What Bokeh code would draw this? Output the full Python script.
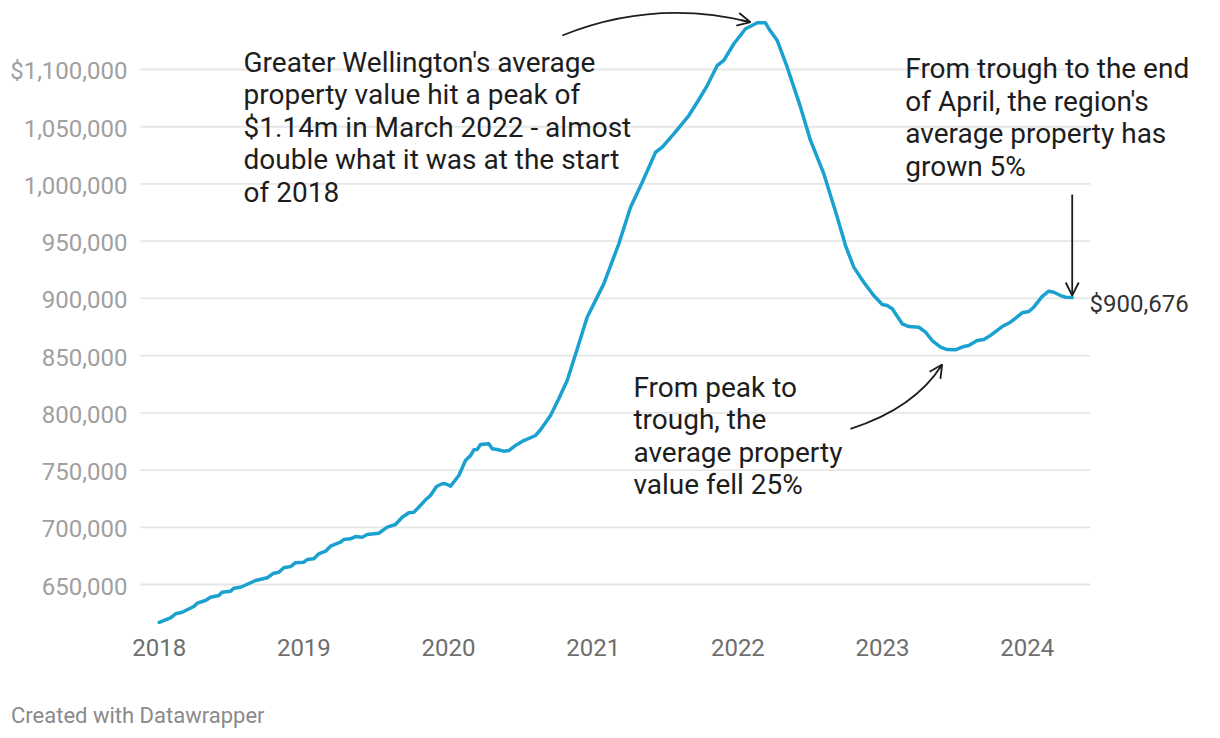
from bokeh.plotting import figure
from bokeh.models import Range1d, Label, Arrow, OpenHead, ColumnDataSource
from bokeh.embed import file_html
from bokeh.resources import INLINE
from bokeh.core.properties import value

# ---- data (decimal year, average property value) ----
years = [2018.000, 2018.078, 2018.113, 2018.159, 2018.239, 2018.263, 2018.320, 2018.355,
         2018.412, 2018.435, 2018.493, 2018.516, 2018.562, 2018.666, 2018.747, 2018.792,
         2018.827, 2018.861, 2018.908, 2018.942, 2019.000, 2019.023, 2019.069, 2019.103,
         2019.150, 2019.184, 2019.253, 2019.276, 2019.322, 2019.357, 2019.403, 2019.438,
         2019.518, 2019.576, 2019.633, 2019.680, 2019.725, 2019.760, 2019.794, 2019.841,
         2019.875, 2019.917, 2019.956, 2019.979, 2020.014, 2020.071, 2020.117, 2020.152,
         2020.175, 2020.198, 2020.221, 2020.278, 2020.302, 2020.336, 2020.382, 2020.417,
         2020.463, 2020.520, 2020.601, 2020.636, 2020.705, 2020.762, 2020.820, 2020.890,
         2020.958, 2021.073, 2021.177, 2021.258, 2021.339, 2021.431, 2021.477, 2021.557,
         2021.661, 2021.719, 2021.788, 2021.857, 2021.903, 2021.972, 2022.053, 2022.099,
         2022.134, 2022.191, 2022.214, 2022.272, 2022.341, 2022.433, 2022.502, 2022.594,
         2022.687, 2022.744, 2022.801, 2022.870, 2022.939, 2022.998, 2023.032, 2023.067,
         2023.136, 2023.182, 2023.251, 2023.297, 2023.343, 2023.401, 2023.447, 2023.504,
         2023.562, 2023.596, 2023.654, 2023.700, 2023.746, 2023.827, 2023.884, 2023.965,
         2024.011, 2024.045, 2024.104, 2024.149, 2024.184, 2024.230, 2024.265, 2024.311]
values = [617000, 620900, 624400, 625800, 630800, 633700, 636000, 638900,
          640400, 643300, 644100, 646800, 647600, 653500, 655900, 659900,
          660700, 664600, 665700, 669000, 669500, 671800, 672500, 676800,
          679100, 683500, 687000, 689300, 689900, 691900, 691300, 693700,
          694800, 700100, 702400, 708800, 712700, 713200, 717500, 724000,
          727800, 735600, 738000, 738000, 735900, 745200, 758400, 762700,
          767700, 768000, 772300, 772900, 768600, 768000, 766500, 767100,
          771500, 775800, 780200, 785200, 797700, 812300, 828300, 856000,
          883600, 912700, 947700, 979700, 1001500, 1027700, 1032100, 1043800,
          1059800, 1071400, 1086000, 1103500, 1107900, 1122500, 1135600, 1138500,
          1140800, 1140800, 1135600, 1125300, 1102000, 1067100, 1038000, 1008900,
          970900, 946200, 927300, 914100, 902500, 894700, 893800, 890900,
          877800, 875400, 874800, 870500, 863200, 857400, 855300, 855100,
          858000, 858800, 863200, 864100, 867600, 875400, 879200, 887400,
          888500, 892300, 901700, 906300, 905400, 902500, 901000, 900676]

x_ticks = [2018, 2019, 2020, 2021, 2022, 2023, 2024]
x_tick_labels = ["2018", "2019", "2020", "2021", "2022", "2023", "2024"]
y_ticks = [650000, 700000, 750000, 800000, 850000, 900000, 950000, 1000000, 1050000, 1100000]
y_tick_labels = ["650,000", "700,000", "750,000", "800,000", "850,000", "900,000",
                 "950,000", "1,000,000", "1,050,000", "$1,100,000"]

note_peak = ("Greater Wellington's average\nproperty value hit a peak of\n"
             "$1.14m in March 2022 - almost\ndouble what it was at the start\nof 2018")
note_trough = "From peak to\ntrough, the\naverage property\nvalue fell 25%"
note_growth = ("From trough to the end\nof April, the region's\n"
               "average property has\ngrown 5%")
end_label = "$900,676"
credit = "Created with Datawrapper"

FONT = "Roboto"
LINE_COLOR = "#1ba1d0"
INK = "#1d1d1d"

# plot-area extents (data units)
X_LO, X_HI = 2016.903, 2025.2254
Y_LO, Y_HI = 522425, 1160302
GRID_X0, GRID_X1 = 2017.871, 2024.437
YLAB_X = 2017.781
XLAB_Y = 594514

p = figure(width=1204, height=730, output_backend="svg", toolbar_location=None,
           x_range=Range1d(X_LO, X_HI), y_range=Range1d(Y_LO, Y_HI))
p.min_border = 0
p.min_border_left = 0
p.min_border_right = 0
p.min_border_top = 0
p.min_border_bottom = 0
p.outline_line_color = None
p.background_fill_color = "white"
p.border_fill_color = "white"
p.axis.visible = False
p.grid.visible = False

# gridlines
p.segment(x0=[GRID_X0] * len(y_ticks), x1=[GRID_X1] * len(y_ticks), y0=y_ticks, y1=y_ticks,
          line_color="#e6e6e6", line_width=1.8)

# tick labels
p.text(x=[YLAB_X] * len(y_ticks), y=y_ticks, text=y_tick_labels,
       text_font=value(FONT), text_font_size="24px", text_color="#a0a0a0",
       text_align="right", text_baseline="middle", y_offset=1.5)
p.text(x=x_ticks, y=[XLAB_Y] * len(x_ticks), text=x_tick_labels,
       text_font=value(FONT), text_font_size="24px", text_color="#6e6e6e",
       text_align="center", text_baseline="middle")

src = ColumnDataSource(dict(x=years, y=values))
p.line("x", "y", source=src, line_color=LINE_COLOR, line_width=3.5,
       line_join="round", line_cap="round")


def curved_arrow(x0, y0, cx, cy, x1, y1):
    p.quadratic(x0=[x0], y0=[y0], x1=[x1], y1=[y1], cx=[cx], cy=[cy],
                line_color=INK, line_width=1.8)
    t = 0.95
    bx = (1 - t) ** 2 * x0 + 2 * (1 - t) * t * cx + t ** 2 * x1
    by = (1 - t) ** 2 * y0 + 2 * (1 - t) * t * cy + t ** 2 * y1
    p.add_layout(Arrow(x_start=bx, y_start=by, x_end=x1, y_end=y1,
                       line_color=INK, line_width=1.8,
                       end=OpenHead(size=13, line_color=INK, line_width=1.8)))


# peak arrow
curved_arrow(2020.786, 1129700, 2021.424, 1162050, 2022.087, 1141300)
# trough arrow
curved_arrow(2022.778, 786050, 2023.221, 803790, 2023.412, 842240)
# growth arrow (straight)
p.add_layout(Arrow(x_start=2024.311, y_start=990780, x_end=2024.311, y_end=902530,
                   line_color=INK, line_width=1.8,
                   end=OpenHead(size=13, line_color=INK, line_width=1.8)))

for txt, x, y in [(note_peak, 2018.583, 1120978),
                  (note_trough, 2021.278, 836993),
                  (note_growth, 2023.157, 1115299)]:
    p.add_layout(Label(x=x, y=y, text=txt, text_font=FONT, text_font_size="28px",
                       text_color=INK, text_baseline="top", text_align="left",
                       text_line_height=0.986))

p.add_layout(Label(x=2024.431, y=895538, text=end_label, text_font=FONT,
                   text_font_size="24px", text_color="#333333",
                   text_baseline="middle", text_align="left"))

p.add_layout(Label(x=10.5, y=15.5, x_units="screen", y_units="screen", text=credit,
                   text_font=FONT, text_font_size="22px", text_color="#8a8a8a",
                   text_baseline="middle", text_align="left"))

open("out.html", "w").write(file_html(p, INLINE))
